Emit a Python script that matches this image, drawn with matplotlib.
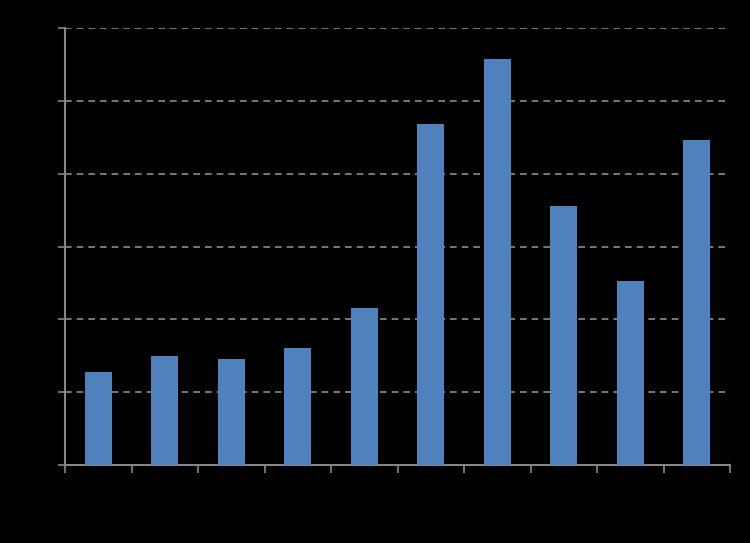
import matplotlib
matplotlib.use("Agg")
import matplotlib.pyplot as plt
import numpy as np

categories = ["1", "2", "3", "4", "5", "6", "7", "8", "9", "10"]
values = [1.28, 1.50, 1.46, 1.61, 2.16, 4.68, 5.57, 3.56, 2.53, 4.46]
yticks = [0, 1, 2, 3, 4, 5, 6]

fig = plt.figure(figsize=(7.5, 5.43), dpi=100, facecolor="black")
ax = fig.add_axes([65/750, 78/543, 665/750, 437/543], facecolor="black")

x = np.arange(len(categories))
ax.bar(x, values, width=0.41, color="#4f81bd", zorder=3)

ax.set_xlim(-0.5, len(categories) - 0.5)
ax.set_ylim(0, 6)
ax.set_yticks(yticks)
ax.set_yticklabels([str(v) for v in yticks], color="black")
ax.set_xticks(x)
ax.set_xticklabels(categories, color="black")
ax.set_xticks(np.arange(-0.5, len(categories)), minor=True)
ax.tick_params(axis="x", which="major", length=0)
ax.tick_params(axis="x", which="minor", length=6, color="#868686", width=1.2, direction="out")
ax.tick_params(axis="y", length=5, color="#868686", width=1.2, direction="out")

for v in yticks[1:]:
    ax.axhline(v, color="#8c8c8c", linestyle=(0, (4, 3)), linewidth=1.2, zorder=1)

for s in ["top", "right"]:
    ax.spines[s].set_visible(False)
for s in ["left", "bottom"]:
    ax.spines[s].set_color("#868686")
    ax.spines[s].set_linewidth(1.5)

fig.savefig("out.png", dpi=100, facecolor="black")
